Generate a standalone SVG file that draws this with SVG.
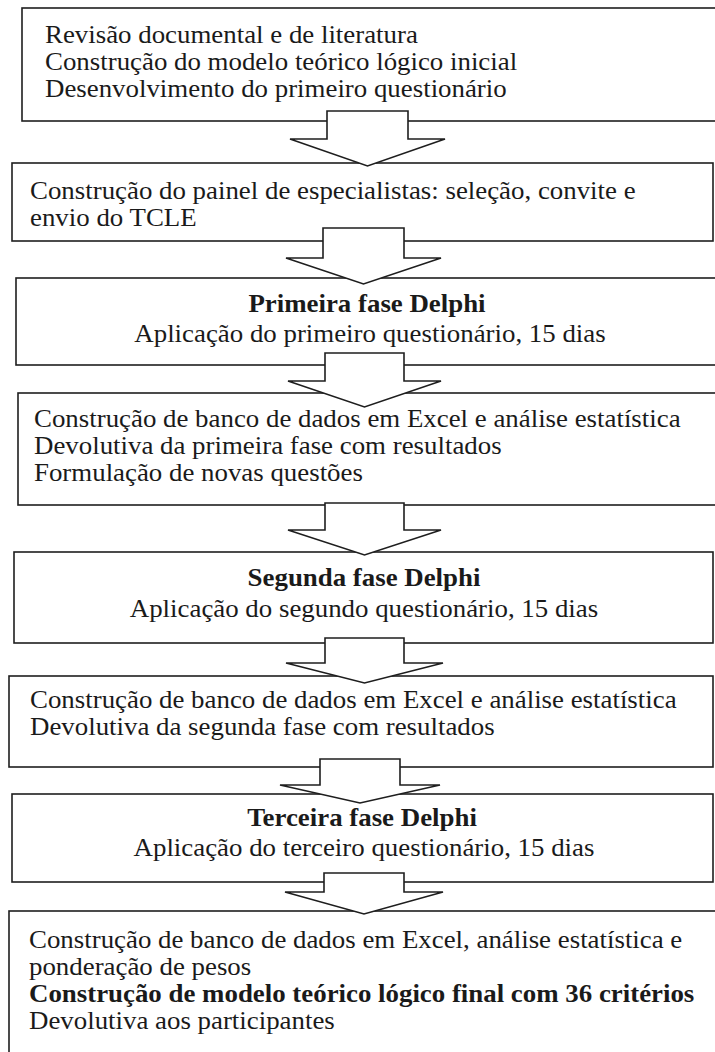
<svg xmlns="http://www.w3.org/2000/svg" width="715" height="1052" viewBox="0 0 715 1052">
<style>
.box{fill:#fff;stroke:#1e1e1e;stroke-width:1.6}
.arr{fill:#fff;stroke:#1e1e1e;stroke-width:1.6;stroke-linejoin:miter}
.t{font-family:"Liberation Serif","Times New Roman",serif;font-size:25px;fill:#1a1a1a}
.b{font-weight:bold}
.c{text-anchor:middle}
</style>
<rect width="715" height="1052" fill="#fff"/>
<g id="n1">
<rect class="box" x="22" y="8" width="700" height="113"/>
<text class="t" transform="translate(45,43) scale(1.075,1)">Revisão documental e de literatura</text>
<text class="t" transform="translate(45,70) scale(1.075,1)">Construção do modelo teórico lógico inicial</text>
<text class="t" transform="translate(45,97) scale(1.075,1)">Desenvolvimento do primeiro questionário</text>
</g>
<g id="n2">
<rect class="box" x="12" y="163" width="701" height="78"/>
<text class="t" transform="translate(30,199) scale(1.075,1)">Construção do painel de especialistas: seleção, convite e</text>
<text class="t" transform="translate(30,226) scale(1.075,1)">envio do TCLE</text>
</g>
<g id="n3">
<rect class="box" x="16" y="278" width="706" height="87"/>
<text class="t b c" transform="translate(367,312) scale(1.075,1)">Primeira fase Delphi</text>
<text class="t c" transform="translate(370,342) scale(1.075,1)">Aplicação do primeiro questionário, 15 dias</text>
</g>
<g id="n4">
<rect class="box" x="18" y="393" width="704" height="112"/>
<text class="t" transform="translate(34,427) scale(1.075,1)">Construção de banco de dados em Excel e análise estatística</text>
<text class="t" transform="translate(34,454) scale(1.075,1)">Devolutiva da primeira fase com resultados</text>
<text class="t" transform="translate(34,481) scale(1.075,1)">Formulação de novas questões</text>
</g>
<g id="n5">
<rect class="box" x="14" y="552" width="699" height="91"/>
<text class="t b c" transform="translate(364,586) scale(1.075,1)">Segunda fase Delphi</text>
<text class="t c" transform="translate(364,617) scale(1.075,1)">Aplicação do segundo questionário, 15 dias</text>
</g>
<g id="n6">
<rect class="box" x="9" y="676" width="704" height="91"/>
<text class="t" transform="translate(30,708) scale(1.075,1)">Construção de banco de dados em Excel e análise estatística</text>
<text class="t" transform="translate(30,735) scale(1.075,1)">Devolutiva da segunda fase com resultados</text>
</g>
<g id="n7">
<rect class="box" x="12" y="794" width="701" height="88"/>
<text class="t b c" transform="translate(362,826) scale(1.075,1)">Terceira fase Delphi</text>
<text class="t c" transform="translate(364,856) scale(1.075,1)">Aplicação do terceiro questionário, 15 dias</text>
</g>
<g id="n8">
<rect class="box" x="9" y="911" width="713" height="160"/>
<text class="t" transform="translate(29,948) scale(1.075,1)">Construção de banco de dados em Excel, análise estatística e</text>
<text class="t" transform="translate(29,975) scale(1.075,1)">ponderação de pesos</text>
<text class="t b" transform="translate(29,1002) scale(1.075,1)">Construção de modelo teórico lógico final com 36 critérios</text>
<text class="t" transform="translate(29,1029) scale(1.075,1)">Devolutiva aos participantes</text>
</g>
<g id="connectors">
<path class="arr" d="M327,111 H408 V139 H445 L367.5,166 L290,139 H327 Z"/>
<path class="arr" d="M323,228 H404 V258 H441 L363.5,284 L286,258 H323 Z"/>
<path class="arr" d="M325,353 H404 V381 H441 L364.5,407 L288,381 H325 Z"/>
<path class="arr" d="M325,503 H404 V530 H441 L364.5,555 L288,530 H325 Z"/>
<path class="arr" d="M325,638 H404 V663 H443 L364.5,683 L286,663 H325 Z"/>
<path class="arr" d="M320,759 H400 V785 H440 L360,803 L280,785 H320 Z"/>
<path class="arr" d="M324,873 H404 V892 H443 L364,914 L285,892 H324 Z"/>
</g>
</svg>
